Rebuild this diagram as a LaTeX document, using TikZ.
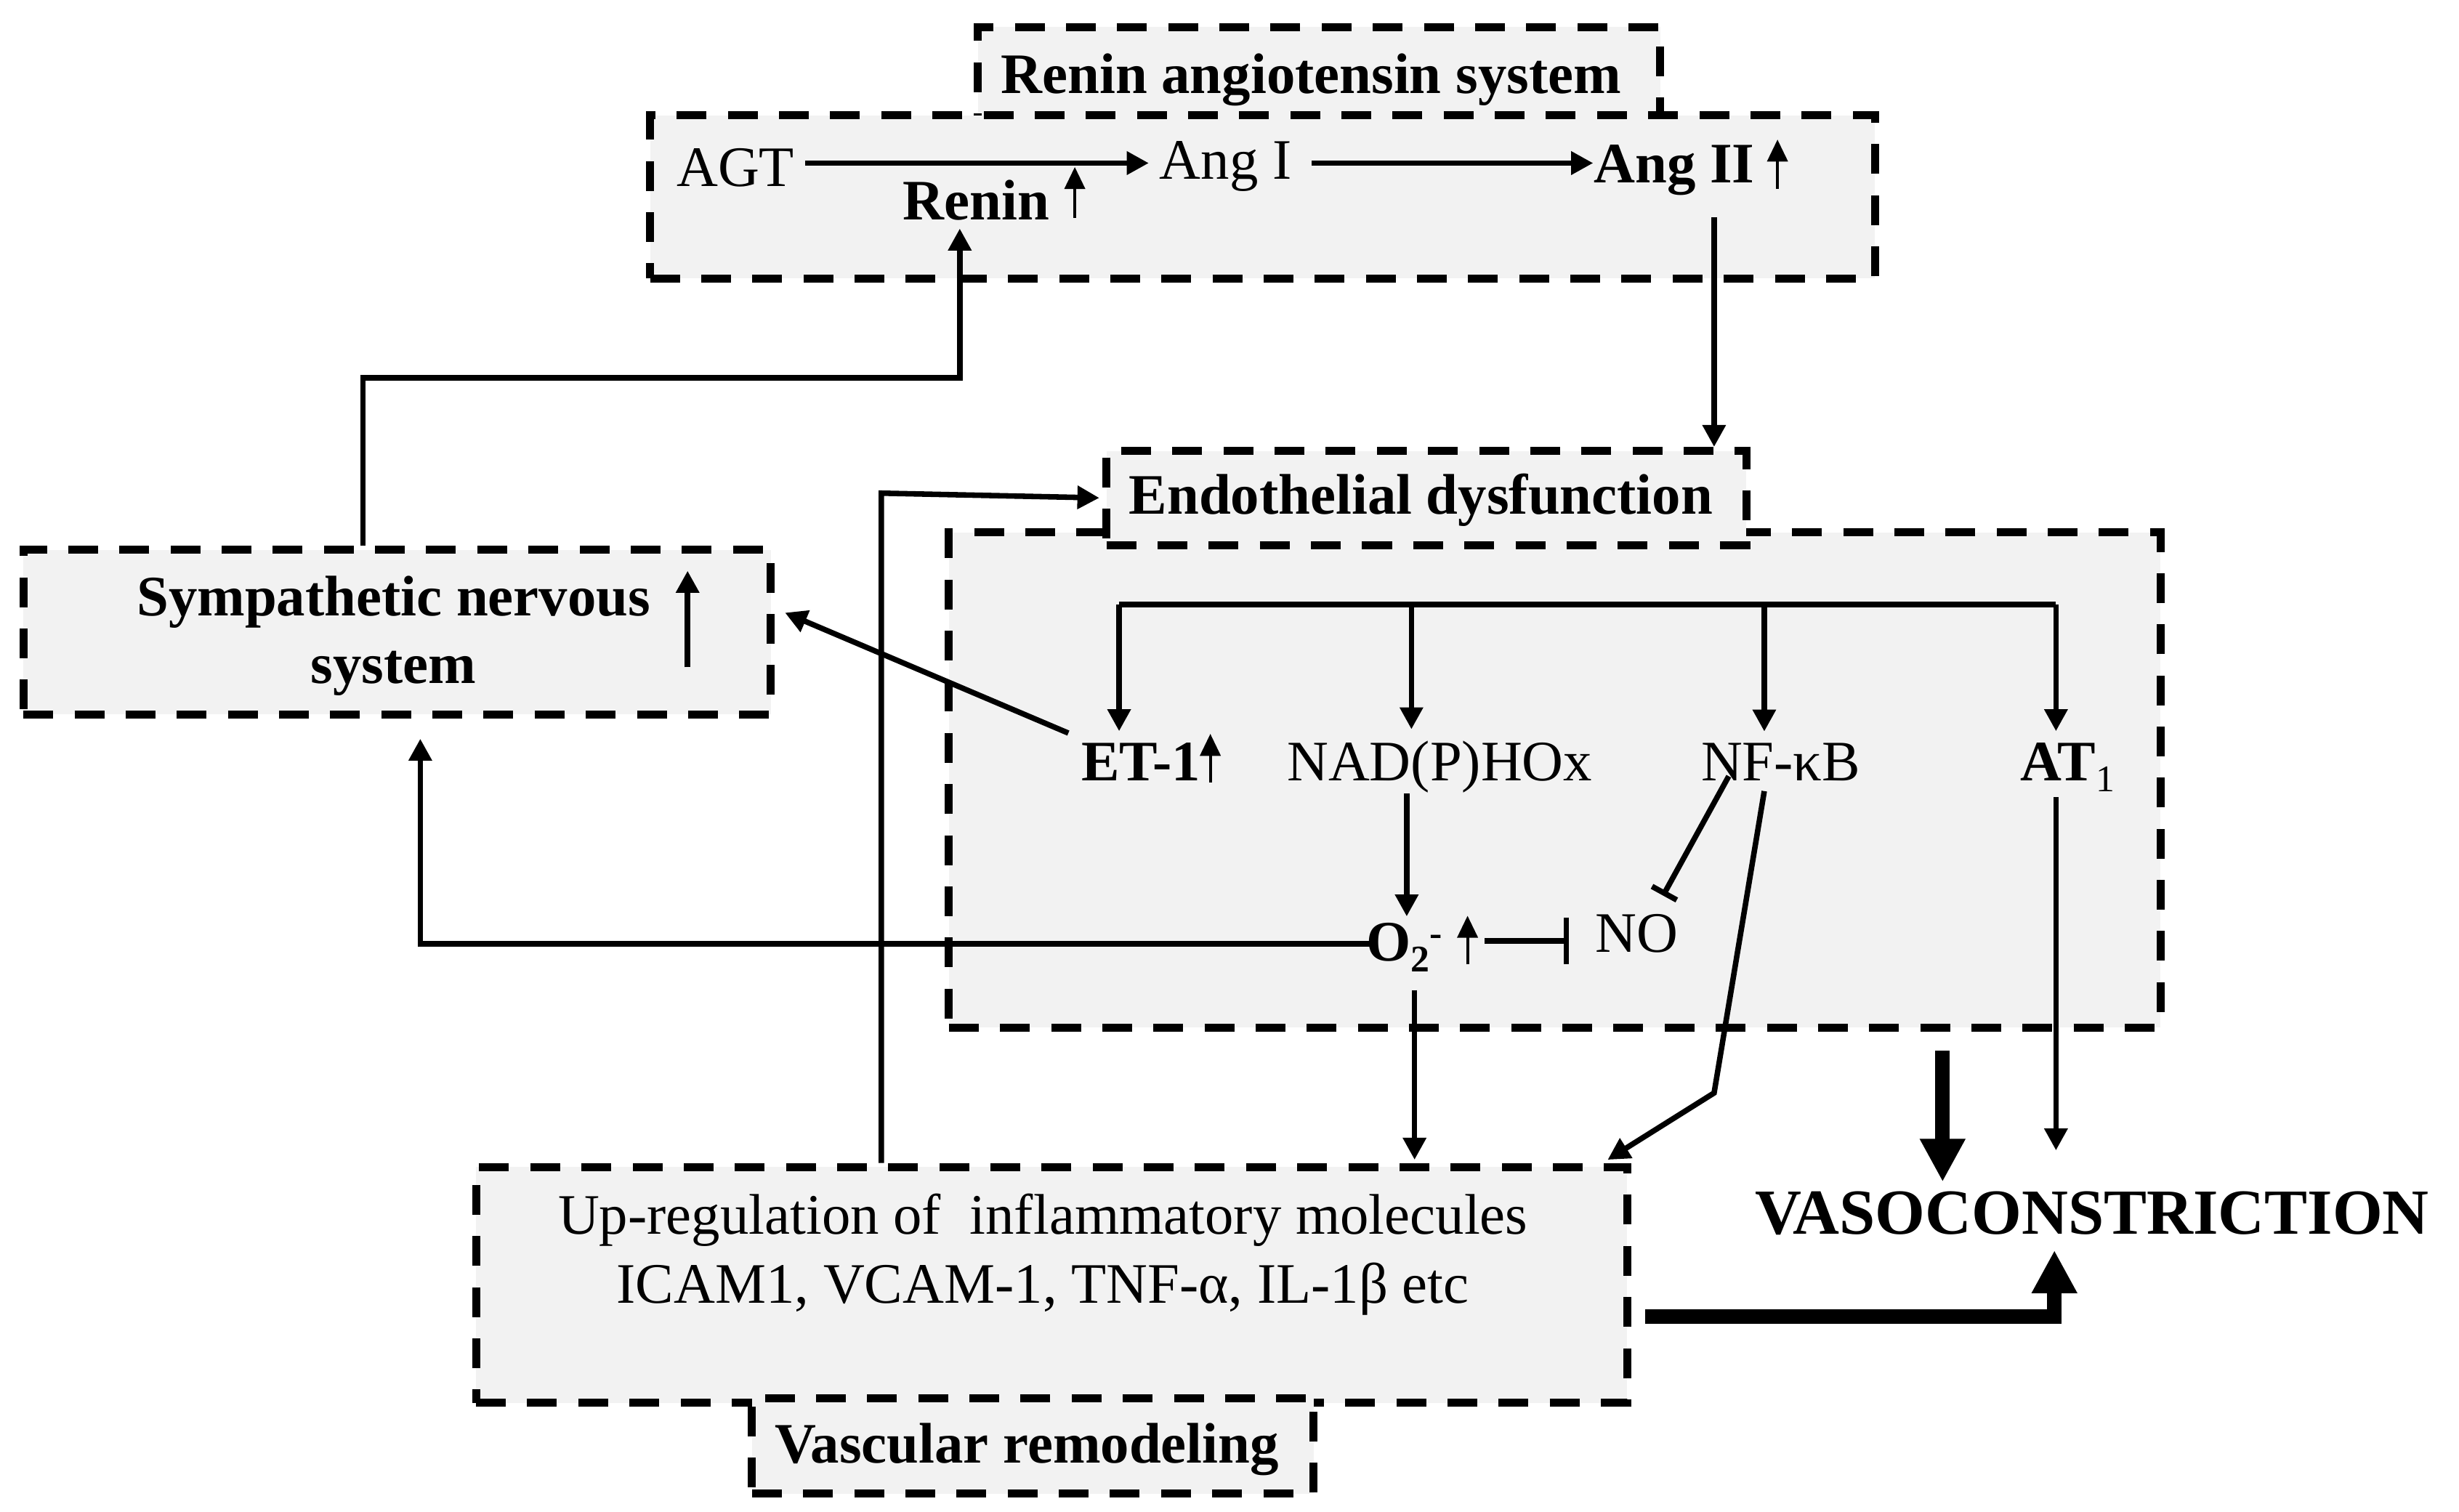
\documentclass[tikz,border=0pt]{standalone}
\usepackage{fontspec}
\setmainfont{Liberation Serif}
\usetikzlibrary{arrows.meta}
\definecolor{boxfill}{HTML}{F2F2F2}
\begin{document}
\begin{tikzpicture}[x=0.5pt,y=-0.5pt,
  boxbg/.style={fill=boxfill, draw=black, line width=2.55pt, dash pattern=on 9.5pt off 6.8pt, inner sep=0pt, anchor=north west},
  txt/.style={inner sep=0pt, anchor=base, font=\fontsize{18.25}{22}\selectfont},
  btxt/.style={txt, font=\fontsize{18.25}{22}\selectfont\bfseries},
  arr/.style={line width=1.75pt, -{Triangle[width=7.1pt,length=7pt]}},
  smallarr/.style={line width=0.9pt, -{Triangle[width=6.5pt,length=7pt]}},
  inh/.style={line width=1.75pt, -{Bar[width=15pt]}},
  inhb/.style={line width=1.75pt, -{Bar[width=9pt]}},
  thickarr/.style={line width=4.6pt, -{Triangle[width=13.6pt,length=13.7pt]}, line join=miter},
  busline/.style={line width=1.9pt},
]
\useasboundingbox (0,0) rectangle (1568,964);

% ---- boxes ----
\node[boxbg, minimum width=217.5pt, minimum height=42.7pt] (rasL) at (621,14.6) {};
\node[boxbg, minimum width=390.5pt, minimum height=52pt] (rasM) at (412,71) {};
\node[boxbg, minimum width=238.3pt, minimum height=52.5pt] (symp) at (12.4,348) {};
\node[boxbg, minimum width=386.25pt, minimum height=157.85pt] (edM) at (602.5,337) {};
\node[boxbg, minimum width=204pt, minimum height=30pt] (edL) at (703,285) {};
\node[boxbg, minimum width=367pt, minimum height=75.2pt] (upreg) at (301,741.6) {};
\node[boxbg, minimum width=179pt, minimum height=30.5pt] (vrL) at (477,889) {};

% ---- texts ----
\node[btxt] (rasT) at (836,59.5) {Renin angiotensin system};
\node[txt] (agt) at (469,119) {AGT};
\node[txt] (ang1) at (781.5,114) {Ang I};
\node[btxt] (ang2) at (1067.5,116.6) {Ang II};
\node[btxt] (renin) at (622.5,140) {Renin};
\node[btxt] (symT1) at (251,392.5) {Sympathetic nervous};
\node[btxt] (symT2) at (251,435.6) {system};
\node[btxt] (edT) at (906,328) {Endothelial dysfunction};
\node[btxt] (et1) at (727.5,498) {ET-1};
\node[txt] (nad) at (918,498) {NAD(P)HOx};
\node[txt] (nfkb) at (1135.5,498) {NF-κB};
\node[txt, anchor=base west] (at1) at (1288,498) {\textbf{AT}\raisebox{-3.3pt}{\fontsize{12}{12}\selectfont 1}};
\node[txt, anchor=base west] (o2) at (871,613) {\textbf{O}\raisebox{-3.3pt}{\fontsize{12}{12}\selectfont\bfseries 2}\raisebox{5pt}{\fontsize{12}{12}\selectfont\bfseries -}};
\node[txt] (no) at (1043.5,607) {NO};
\node[txt] (up1) at (665,787) {Up-regulation of\ \ inflammatory molecules};
\node[txt] (up2) at (665,831) {ICAM1, VCAM-1, TNF-α, IL-1β etc};
\node[btxt] (vrT) at (654.7,933) {Vascular remodeling};
\node[txt, font=\fontsize{20.5}{24}\selectfont\bfseries] (vaso) at (1334,787) {VASOCONSTRICTION};

% ---- small up arrows ----
\draw[smallarr] ([shift={(15.8,-1)}]renin.base east) -- ++(0,-32.5);
\draw[smallarr] ([shift={(14.3,3.9)}]ang2.base east) -- ++(0,-31.5);
\draw[smallarr] ([shift={(6,1)}]et1.base east) -- ++(0,-31);
\draw[smallarr] ([shift={(15.6,2)}]o2.base east) -- ++(0,-31);
\draw[arr] ([shift={(23.3,33)}]symT1.base east) -- ++(0,-61.5);

% ---- RAS connectors ----
\draw[arr, shorten <=3.25pt, shorten >=3.25pt] (agt.east |- 0,104) -- (ang1.west |- 0,104);
\draw[arr, shorten <=6.25pt] (ang1.east |- 0,104) -- (ang2.west |- 0,104);
\draw[arr, shorten <=6.7pt] (ang2.south -| 1093,0) -- (1093,0 |- edL.north);
\coordinate (rbend) at (612,241);
\draw[arr, shorten >=2.5pt] (symp.north -| 231.5,0) |- (rbend) -- (rbend |- renin.south);
\coordinate (ubend) at (562,314.5);
\draw[arr, shorten >=1pt] (upreg.north -| ubend) -- (ubend) -- (edL.west);

% ---- endothelial connectors ----
\draw[arr, shorten >=3.5pt] ([shift={(-8,-6)}]et1.north west) -- (symp.east |- 0,388);
\draw[arr, shorten <=-3.5pt, shorten >=6.5pt] (o2.west |- 0,602) -| (symp.south -| 268,0);
\coordinate (busL) at (713.6,385.5);
\coordinate (busR) at (1311,385.5);
\draw[busline] (busL) -- (busR);
\draw[arr, shorten >=3.6pt] (busL) -- (busL |- et1.north);
\draw[arr, shorten >=3.6pt] (busL -| 900,0) -- (900,0 |- nad.north);
\draw[arr, shorten >=3.6pt] (busL -| 1125,0) -- (1125,0 |- nfkb.north);
\draw[arr, shorten >=3.6pt] (busR) -- (busR |- at1.north);
\draw[arr, shorten >=2pt] (nad.south -| 897,0) -- (897,0 |- o2.north);
\draw[inh, shorten <=13.3pt, shorten >=8.1pt] (o2.east |- 0,600) -- (no.west |- 0,600);
\draw[inhb] ([shift={(18,-3)}]nfkb.base west) -- ([shift={(-9.8,-11.3)}]no.north east);
\coordinate (nfbend) at (1093,697);
\draw[arr] ([shift={(-10.5,6)}]nfkb.south) -- (nfbend) -- ([shift={(-15,-2)}]upreg.north east);
\draw[arr, shorten <=5.7pt, shorten >=1pt] (o2.south -| 902,0) -- (902,0 |- upreg.north);

% ---- vasoconstriction ----
\draw[arr, shorten <=1.7pt, shorten >=12.9pt] (at1.south -| 1311,0) -- (1311,0 |- vaso.north);
\draw[thickarr, shorten <=6.15pt, shorten >=2.9pt] (edM.south -| 1238.7,0) -- (1238.7,0 |- vaso.north);
\draw[thickarr, shorten <=4.5pt, shorten >=4.65pt] (upreg.east |- 0,839.6) -| (1310,0 |- vaso.south);
\end{tikzpicture}
\end{document}
